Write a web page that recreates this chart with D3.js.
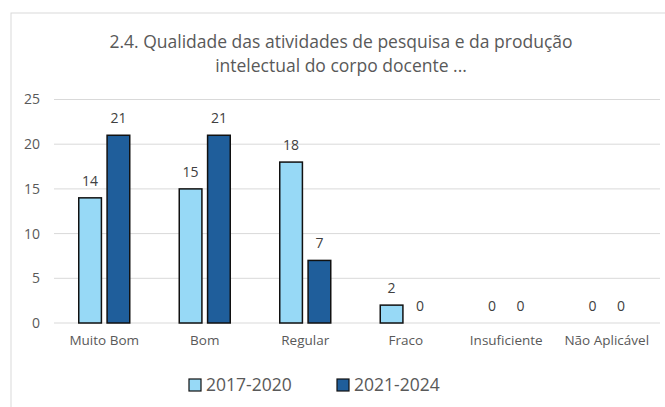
<!DOCTYPE html>
<html lang="pt">
<head>
  <meta charset="UTF-8">
  <script src="https://d3js.org/d3.v7.min.js"></script>
  <style>
    body { margin: 0; background: #fff; }
    svg { display: block; font-family: "Open Sans", sans-serif; }
  </style>
</head>
<body>
  <svg id="chart" width="665" height="407"></svg>
  <script>
    const categories = ["Muito Bom", "Bom", "Regular", "Fraco", "Insuficiente", "Não Aplicável"];
    const seriesNames = ["2017-2020", "2021-2024"];
    const values2017 = [14, 15, 18, 2, 0, 0];
    const values2021 = [21, 21, 7, 0, 0, 0];
    const yTicks = [0, 5, 10, 15, 20, 25];
    const colors = ["#97D9F6", "#1F5E9B"];

    const svg = d3.select("#chart");
    const margin = { top: 99.5, right: 8, bottom: 84, left: 54 };

    // chart frame
    svg.append("rect")
      .attr("x", 11).attr("y", 13)
      .attr("width", 700).attr("height", 420)
      .attr("fill", "none").attr("stroke", "#d9d9d9").attr("stroke-width", 1);

    // title
    const title = svg.append("text")
      .attr("text-anchor", "middle")
      .attr("fill", "#595959")
      .attr("font-size", "17.5px");
    title.append("tspan").attr("x", 341).attr("y", 48).text("2.4. Qualidade das atividades de pesquisa e da produção");
    title.append("tspan").attr("x", 341).attr("y", 72).text("intelectual do corpo docente ...");

    const x = d3.scaleBand()
      .domain(categories)
      .range([margin.left, 657]);

    const y = d3.scaleLinear()
      .domain([0, 25])
      .range([323, margin.top]);

    // gridlines
    svg.append("g")
      .selectAll("line")
      .data(yTicks)
      .join("line")
      .attr("x1", margin.left).attr("x2", 660)
      .attr("y1", d => y(d)).attr("y2", d => y(d))
      .attr("stroke", "#d9d9d9").attr("stroke-width", 1);

    // y axis labels
    const yAxis = svg.append("g")
      .attr("transform", `translate(${margin.left},0)`)
      .call(d3.axisLeft(y).tickValues(yTicks).tickSize(0).tickPadding(14));
    yAxis.select(".domain").remove();
    yAxis.selectAll("text")
      .attr("fill", "#595959")
      .attr("font-size", "14px")
      .attr("font-family", "Open Sans, sans-serif");

    // x axis labels
    const xAxis = svg.append("g")
      .attr("transform", `translate(0,${y(0)})`)
      .call(d3.axisBottom(x).tickSize(0).tickPadding(12));
    xAxis.select(".domain").remove();
    xAxis.selectAll("text")
      .attr("fill", "#595959")
      .attr("font-size", "13.5px")
      .attr("font-family", "Open Sans, sans-serif");

    const xSub = d3.scaleBand()
      .domain(seriesNames)
      .range([0, 51])
      .paddingInner(0.2);

    const data = categories.map((c, i) => ({
      cat: c,
      vals: [values2017[i], values2021[i]]
    }));

    const groups = svg.append("g")
      .selectAll("g")
      .data(data)
      .join("g")
      .attr("transform", d => `translate(${x(d.cat) + x.bandwidth() / 2 - 25.5},0)`);

    groups.selectAll("rect")
      .data(d => d.vals.map((v, j) => ({ v, s: seriesNames[j], j })))
      .join("rect")
      .filter(d => d.v > 0)
      .attr("x", d => xSub(d.s))
      .attr("y", d => y(d.v))
      .attr("width", xSub.bandwidth())
      .attr("height", d => y(0) - y(d.v))
      .attr("fill", d => colors[d.j])
      .attr("stroke", "#111")
      .attr("stroke-width", 1.5);

    groups.selectAll("text")
      .data(d => d.vals.map((v, j) => ({ v, s: seriesNames[j], j })))
      .join("text")
      .attr("x", d => xSub(d.s) + xSub.bandwidth() / 2)
      .attr("y", d => y(d.v) - 12)
      .attr("text-anchor", "middle")
      .attr("fill", "#404040")
      .attr("font-size", "14px")
      .text(d => d.v);

    // legend
    const legend = svg.append("g").attr("transform", "translate(189,379)");
    const legX = [0, 148];
    seriesNames.forEach((s, i) => {
      legend.append("rect")
        .attr("x", legX[i]).attr("y", 0)
        .attr("width", 12).attr("height", 12)
        .attr("fill", colors[i]).attr("stroke", "#111").attr("stroke-width", 1.2);
      legend.append("text")
        .attr("x", legX[i] + 17).attr("y", 12)
        .attr("fill", "#595959")
        .attr("font-size", "17.5px")
        .text(s);
    });
  </script>
</body>
</html>
